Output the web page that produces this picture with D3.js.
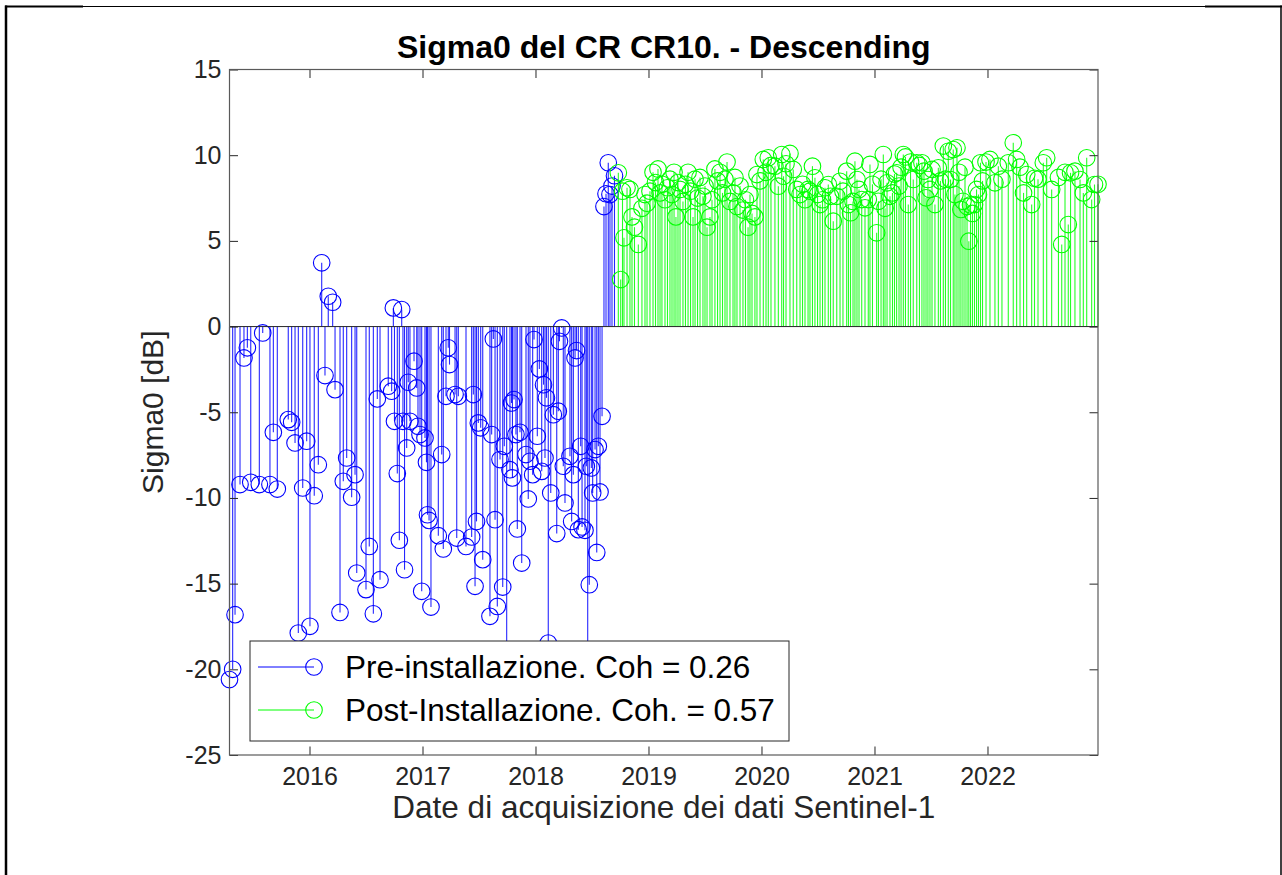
<!DOCTYPE html>
<html>
<head>
<meta charset="utf-8">
<script src="https://cdn.jsdelivr.net/npm/d3@7"></script>
<style>
  html, body { margin: 0; padding: 0; background: #fff; }
  svg { display: block; }
  text { font-family: "Liberation Sans", Arial, Helvetica, sans-serif; }
</style>
</head>
<body>
<svg id="chart" width="1282" height="875"></svg>
<script>
// Sigma0 of corner reflector CR10 (descending track), acquisition dates as decimal years
const preDates = [
  2015.292, 2015.320, 2015.341, 2015.385, 2015.420, 2015.450, 2015.480, 2015.556, 2015.586, 2015.650,
  2015.680, 2015.715, 2015.812, 2015.842, 2015.872, 2015.901, 2015.940, 2015.975, 2016.004, 2016.042,
  2016.078, 2016.108, 2016.137, 2016.166, 2016.205, 2016.226, 2016.270, 2016.299, 2016.329, 2016.373,
  2016.403, 2016.418, 2016.500, 2016.529, 2016.565, 2016.600, 2016.624, 2016.697, 2016.727, 2016.742,
  2016.752, 2016.777, 2016.795, 2016.816, 2016.827, 2016.841, 2016.860, 2016.874, 2016.889, 2016.925,
  2016.949, 2016.960, 2016.978, 2016.993, 2017.022, 2017.035, 2017.044, 2017.058, 2017.075, 2017.140,
  2017.170, 2017.184, 2017.208, 2017.228, 2017.239, 2017.288, 2017.303, 2017.317, 2017.385, 2017.435,
  2017.450, 2017.465, 2017.478, 2017.494, 2017.515, 2017.533, 2017.597, 2017.612, 2017.627, 2017.642,
  2017.662, 2017.686, 2017.710, 2017.724, 2017.745, 2017.774, 2017.788, 2017.796, 2017.810, 2017.827,
  2017.839, 2017.863, 2017.878, 2017.916, 2017.936, 2017.951, 2017.975, 2017.987, 2018.016, 2018.034,
  2018.055, 2018.071, 2018.084, 2018.097, 2018.113, 2018.135, 2018.158, 2018.188, 2018.202, 2018.212,
  2018.232, 2018.246, 2018.261, 2018.305, 2018.320, 2018.335, 2018.350, 2018.363, 2018.379, 2018.400,
  2018.412, 2018.438, 2018.450, 2018.462, 2018.476, 2018.494, 2018.506, 2018.527, 2018.542, 2018.556,
  2018.571, 2018.589, 2018.606, 2018.624, 2018.644, 2018.659, 2018.677, 2018.699
];
const preValues = [
  -20.6, -20.0, -16.81, -9.22, -1.83, -1.24, -9.09, -9.22, -0.37, -9.22,
  -6.17, -9.48, -5.43, -5.59, -6.79, -17.88, -9.42, -6.69, -17.49, -9.87,
  -8.06, 3.72, -2.86, 1.77, 1.42, -3.68, -16.68, -9.03, -7.67, -9.96,
  -8.64, -14.38, -15.35, -12.83, -16.76, -4.22, -14.77, -3.48, -3.77, 1.09,
  -5.53, -8.58, -12.47, 0.99, -5.53, -14.19, -7.08, -3.25, -5.53, -2.02,
  -3.58, -5.82, -6.30, -15.45, -6.50, -7.92, -10.98, -11.31, -16.37, -12.20,
  -7.47, -12.98, -4.07, -1.24, -2.22, -3.97, -12.34, -4.07, -12.83, -12.28,
  -3.97, -15.16, -11.37, -5.62, -5.91, -13.60, -16.91, -6.30, -0.72, -11.27,
  -16.33, -7.76, -15.20, -6.99, -21.5, -8.35, -4.46, -8.83, -4.26, -6.30,
  -11.81, -6.17, -13.80, -7.47, -10.06, -7.86, -8.64, -0.76, -6.40, -2.47,
  -8.45, -3.39, -7.67, -4.16, -18.47, -9.71, -5.14, -12.08, -4.94, -0.86,
  -0.08, -8.15, -10.29, -7.57, -11.37, -8.64, -1.83, -1.40, -11.85, -6.99,
  -11.69, -11.89, -8.15, -22.0, -15.06, -8.25, -9.71, -7.18, -13.18, -6.99,
  -9.65, -5.24, 7.00, 7.75, 9.56, 7.70, 8.20, 8.80
];
const postDates = [
  2018.733, 2018.754, 2018.770, 2018.783, 2018.810, 2018.836, 2018.854, 2018.876, 2018.910, 2018.942,
  2018.969, 2018.987, 2019.013, 2019.040, 2019.062, 2019.084, 2019.102, 2019.119, 2019.146, 2019.168,
  2019.190, 2019.208, 2019.226, 2019.243, 2019.261, 2019.279, 2019.305, 2019.327, 2019.350, 2019.372,
  2019.394, 2019.412, 2019.434, 2019.456, 2019.482, 2019.500, 2019.518, 2019.544, 2019.562, 2019.588,
  2019.611, 2019.633, 2019.655, 2019.677, 2019.695, 2019.721, 2019.748, 2019.765, 2019.783, 2019.810,
  2019.836, 2019.858, 2019.881, 2019.898, 2019.916, 2019.942, 2019.960, 2019.987, 2020.016, 2020.040,
  2020.060, 2020.084, 2020.119, 2020.149, 2020.179, 2020.195, 2020.217, 2020.252, 2020.281, 2020.312,
  2020.341, 2020.363, 2020.385, 2020.412, 2020.429, 2020.451, 2020.473, 2020.496, 2020.518, 2020.540,
  2020.562, 2020.591, 2020.611, 2020.635, 2020.666, 2020.695, 2020.721, 2020.754, 2020.770, 2020.788,
  2020.810, 2020.827, 2020.845, 2020.863, 2020.887, 2020.916, 2020.945, 2020.960, 2020.982, 2021.019,
  2021.035, 2021.058, 2021.078, 2021.093, 2021.111, 2021.137, 2021.159, 2021.177, 2021.196, 2021.217,
  2021.235, 2021.255, 2021.274, 2021.299, 2021.319, 2021.343, 2021.374, 2021.398, 2021.420, 2021.438,
  2021.456, 2021.473, 2021.491, 2021.509, 2021.535, 2021.565, 2021.584, 2021.609, 2021.628, 2021.653,
  2021.673, 2021.697, 2021.712, 2021.730, 2021.748, 2021.765, 2021.783, 2021.801, 2021.819, 2021.835,
  2021.850, 2021.867, 2021.885, 2021.903, 2021.920, 2021.938, 2021.956, 2021.987, 2022.022, 2022.066,
  2022.096, 2022.128, 2022.184, 2022.228, 2022.258, 2022.288, 2022.319, 2022.347, 2022.391, 2022.416,
  2022.447, 2022.494, 2022.524, 2022.568, 2022.628, 2022.657, 2022.686, 2022.715, 2022.735, 2022.774,
  2022.819, 2022.848, 2022.878, 2022.922, 2022.947, 2022.978
];
const postValues = [
  8.97, 2.74, 7.90, 5.18, 8.10, 8.00, 6.40, 5.80, 4.79, 6.90,
  7.70, 7.20, 7.90, 9.00, 8.40, 9.20, 7.80, 8.30, 7.40, 8.10,
  8.60, 7.70, 9.00, 6.40, 8.40, 8.00, 7.30, 8.30, 9.00, 7.90,
  6.40, 8.60, 7.50, 8.70, 7.60, 8.20, 5.80, 6.40, 7.40, 9.20,
  8.50, 9.00, 7.80, 8.60, 9.60, 7.30, 7.80, 8.70, 7.00, 8.20,
  6.80, 7.40, 5.80, 7.70, 6.60, 6.40, 8.87, 8.50, 9.75, 9.00,
  9.85, 9.40, 9.36, 8.19, 10.04, 8.77, 9.50, 10.10, 9.17, 8.00,
  7.70, 8.30, 7.40, 8.00, 7.90, 9.36, 8.68, 7.70, 7.12, 7.40,
  8.10, 8.29, 7.60, 6.15, 7.60, 8.48, 7.90, 9.07, 7.12, 6.64,
  7.30, 9.65, 8.58, 8.00, 7.41, 6.93, 7.41, 9.46, 8.30, 5.47,
  7.31, 8.60, 10.04, 6.90, 8.39, 7.60, 7.80, 8.90, 8.97, 8.20,
  9.30, 10.04, 9.90, 7.12, 9.60, 8.58, 9.56, 9.40, 9.56, 9.07,
  7.51, 8.58, 8.00, 9.17, 7.12, 9.26, 8.50, 10.53, 8.60, 10.23,
  8.58, 10.33, 7.70, 10.43, 9.00, 6.83, 7.31, 9.30, 7.00, 4.98,
  7.10, 6.60, 7.12, 8.00, 7.70, 9.56, 8.50, 9.60, 9.75, 8.39,
  9.36, 8.60, 9.56, 10.72, 9.75, 9.30, 7.80, 8.87, 7.12, 8.65,
  8.60, 9.56, 9.85, 8.00, 8.70, 4.79, 9.00, 5.95, 8.97, 9.07,
  8.58, 7.80, 9.85, 7.41, 8.29, 8.30
];

const yTicks = [-25, -20, -15, -10, -5, 0, 5, 10, 15];
const xTicks = [2016, 2017, 2018, 2019, 2020, 2021, 2022];
const legendLabels = ["Pre-installazione. Coh = 0.26", "Post-Installazione. Coh. = 0.57"];
const seriesColors = ["#0000ff", "#00ff00"];
const titleText = "Sigma0 del CR CR10. - Descending";
const xLabelText = "Date di acquisizione dei dati Sentinel-1";
const yLabelText = "Sigma0 [dB]";

const svg = d3.select("#chart");
const plot = { left: 229.5, right: 1098, top: 69.5, bottom: 755 };
const axisColor = "#262626";
const fontStack = "'Liberation Sans', Arial, Helvetica, sans-serif";

svg.append("rect").attr("width", 1282).attr("height", 875).attr("fill", "#fff");

const x = d3.scaleLinear()
  .domain(d3.extent(preDates.concat(postDates)))
  .range([plot.left, plot.right]);
const y = d3.scaleLinear()
  .domain([yTicks[0], yTicks[yTicks.length - 1]])
  .range([plot.bottom, plot.top]);

// stems and markers, one group per series
const series = [
  { dates: preDates, values: preValues, color: seriesColors[0] },
  { dates: postDates, values: postValues, color: seriesColors[1] }
];
series.forEach(s => {
  const pts = d3.zip(s.dates, s.values);
  const g = svg.append("g");
  g.selectAll("line").data(pts).join("line")
    .attr("x1", d => x(d[0])).attr("x2", d => x(d[0]))
    .attr("y1", y(0)).attr("y2", d => y(d[1]))
    .attr("stroke", s.color).attr("stroke-width", 1.1).attr("stroke-opacity", 0.85);
  g.selectAll("circle").data(pts).join("circle")
    .attr("cx", d => x(d[0])).attr("cy", d => y(d[1]))
    .attr("r", 8.3)
    .attr("fill", "none").attr("stroke", s.color).attr("stroke-width", 1.1);
});

// stem baseline at 0 dB
svg.append("line")
  .attr("x1", plot.left).attr("x2", plot.right)
  .attr("y1", y(0)).attr("y2", y(0))
  .attr("stroke", axisColor).attr("stroke-width", 1);

// axes with inward ticks on all four sides
const tickLen = 8.5;
const plain = d => String(d);
function styleAxis(g) {
  g.selectAll(".domain").remove();
  g.selectAll(".tick line").attr("stroke", axisColor).attr("stroke-width", 1);
  g.selectAll(".tick text").attr("fill", axisColor)
    .style("font-family", fontStack)
    .style("font-size", "25px");
}
svg.append("g").attr("transform", `translate(${plot.left},0)`)
  .call(d3.axisLeft(y).tickValues(yTicks).tickFormat(plain)
    .tickSizeInner(-tickLen).tickSizeOuter(0).tickPadding(8))
  .call(styleAxis);
svg.append("g").attr("transform", `translate(${plot.right},0)`)
  .call(d3.axisRight(y).tickValues(yTicks).tickFormat("")
    .tickSizeInner(-tickLen).tickSizeOuter(0))
  .call(styleAxis);
svg.append("g").attr("transform", `translate(0,${plot.bottom})`)
  .call(d3.axisBottom(x).tickValues(xTicks).tickFormat(plain)
    .tickSizeInner(-tickLen).tickSizeOuter(0).tickPadding(12))
  .call(styleAxis);
svg.append("g").attr("transform", `translate(0,${plot.top})`)
  .call(d3.axisTop(x).tickValues(xTicks).tickFormat("")
    .tickSizeInner(-tickLen).tickSizeOuter(0))
  .call(styleAxis);

// axes box
svg.append("rect")
  .attr("x", plot.left).attr("y", plot.top)
  .attr("width", plot.right - plot.left).attr("height", plot.bottom - plot.top)
  .attr("fill", "none").attr("stroke", "#5a5a5a").attr("stroke-width", 1.2);

// title and axis labels
const midX = (plot.left + plot.right) / 2;
svg.append("text").attr("x", midX).attr("y", 58)
  .attr("text-anchor", "middle").attr("fill", "#000")
  .style("font-size", "32px").style("font-weight", "bold")
  .text(titleText);
svg.append("text").attr("x", midX).attr("y", 818)
  .attr("text-anchor", "middle").attr("fill", axisColor)
  .style("font-size", "31.5px")
  .text(xLabelText);
svg.append("text")
  .attr("transform", `translate(163,${(plot.top + plot.bottom) / 2}) rotate(-90)`)
  .attr("text-anchor", "middle").attr("fill", axisColor)
  .style("font-size", "30px")
  .text(yLabelText);

// legend
const legend = svg.append("g");
legend.append("rect")
  .attr("x", 250).attr("y", 641).attr("width", 539).attr("height", 100)
  .attr("fill", "#fff").attr("stroke", axisColor).attr("stroke-width", 1);
legendLabels.forEach((label, i) => {
  const ly = 667 + i * 43;
  legend.append("line").attr("x1", 258).attr("x2", 314).attr("y1", ly).attr("y2", ly)
    .attr("stroke", seriesColors[i]).attr("stroke-width", 1);
  legend.append("circle").attr("cx", 314).attr("cy", ly).attr("r", 8.3)
    .attr("fill", "none").attr("stroke", seriesColors[i]).attr("stroke-width", 1.1);
  legend.append("text").attr("x", 345).attr("y", ly).attr("dy", "0.35em")
    .attr("fill", "#000").style("font-size", "31.5px").text(label);
});

// figure frame
const frame = svg.append("g").attr("stroke", "#000").attr("fill", "none");
frame.append("line").attr("x1", 6).attr("x2", 1281).attr("y1", 6.5).attr("y2", 6.5).attr("stroke-width", 1);
frame.append("line").attr("x1", 5).attr("x2", 83).attr("y1", 6.5).attr("y2", 6.5).attr("stroke-width", 2);
frame.append("line").attr("x1", 1205).attr("x2", 1282).attr("y1", 6.5).attr("y2", 6.5).attr("stroke-width", 2);
frame.append("line").attr("x1", 6).attr("x2", 6).attr("y1", 5.5).attr("y2", 875).attr("stroke-width", 2.5);
frame.append("line").attr("x1", 1281).attr("x2", 1281).attr("y1", 5.5).attr("y2", 875).attr("stroke-width", 1.5);
</script>
</body>
</html>
